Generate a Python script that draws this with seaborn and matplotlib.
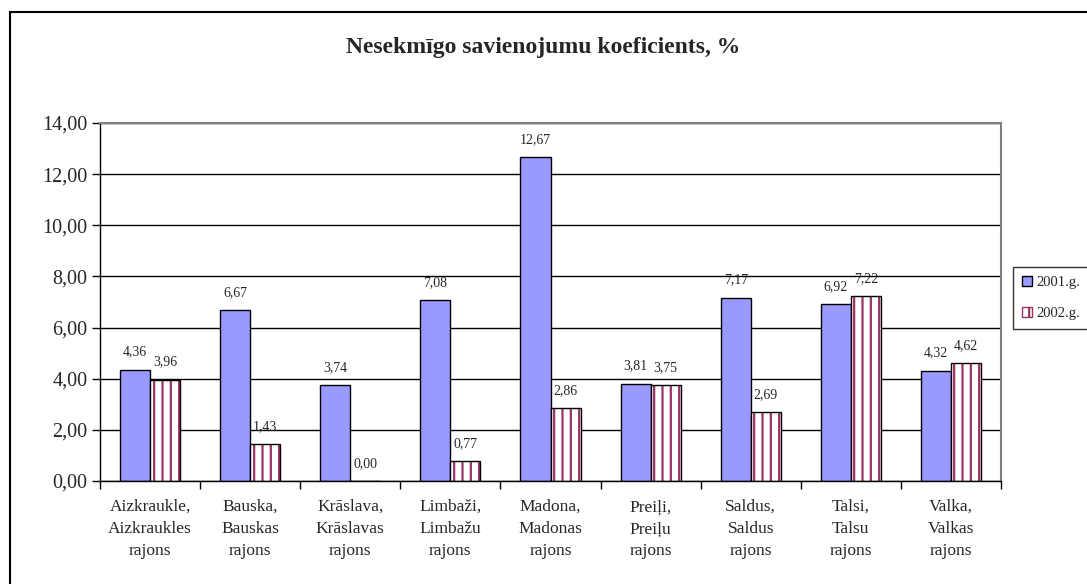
import seaborn as sns
import matplotlib.pyplot as plt
import pandas as pd
from matplotlib.patches import Patch, Rectangle
from matplotlib.ticker import FuncFormatter, FixedLocator

# dati
rajoni = ["Aizkraukle,\nAizkraukles\nrajons", "Bauska,\nBauskas\nrajons",
          "Krāslava,\nKrāslavas\nrajons", "Limbaži,\nLimbažu\nrajons",
          "Madona,\nMadonas\nrajons", "Preiļi,\nPreiļu\nrajons",
          "Saldus,\nSaldus\nrajons", "Talsi,\nTalsu\nrajons",
          "Valka,\nValkas\nrajons"]
gadi = ["2001.g.", "2002.g."]
v2001 = [4.36, 6.67, 3.74, 7.08, 12.67, 3.81, 7.17, 6.92, 4.32]
v2002 = [3.96, 1.43, 0.00, 0.77, 2.86, 3.75, 2.69, 7.22, 4.62]

df = pd.DataFrame({
    "rajons": rajoni * 2,
    "gads": [gadi[0]] * len(rajoni) + [gadi[1]] * len(rajoni),
    "vertiba": v2001 + v2002,
})

sns.set_theme(style="white")
plt.rcParams['font.family'] = ['Liberation Serif', 'DejaVu Serif']
plt.rcParams['hatch.linewidth'] = 1.6

fig = plt.figure(figsize=(10.87, 5.84), dpi=100)
ax = fig.add_axes([100 / 1087, 1 - 481 / 584, 901 / 1087, (481 - 123) / 584])

sns.barplot(data=df, x="rajons", y="vertiba", hue="gads", order=rajoni,
            hue_order=gadi, palette=["#9999FF", "#FFFFFF"], width=0.6,
            gap=0, edgecolor="black", linewidth=1, saturation=1,
            legend=False, ax=ax)

# 2002 stabi: svītras + melna kontūra
for bar in ax.containers[1]:
    bar.set_hatch("||")
    bar.set_edgecolor("#993366")
    bar.set_linewidth(0)
    ax.add_patch(Rectangle(bar.get_xy(), bar.get_width(), bar.get_height(),
                           fill=False, edgecolor="black", linewidth=1, zorder=bar.get_zorder() + 0.1))

# vērtību uzraksti
for cont in ax.containers:
    for bar in cont:
        ax.annotate(f"{bar.get_height():.2f}".replace(".", ","),
                    (bar.get_x() + bar.get_width() / 2, bar.get_height()),
                    xytext=(0, 8), textcoords="offset points",
                    ha="center", va="bottom", fontsize=10, zorder=0.9)

ax.set_ylim(0, 14)
ax.set_xlim(-0.5, len(rajoni) - 0.5)
ax.set_yticks(range(0, 15, 2))
ax.yaxis.set_major_formatter(FuncFormatter(lambda v, p: f"{v:.2f}".replace(".", ",")))
ax.yaxis.grid(True, color="black", linewidth=1)
ax.set_axisbelow(True)
ax.set_xlabel("")
ax.set_ylabel("")

ax.tick_params(axis="y", labelsize=14.5, length=6, width=1, color="black", left=True, pad=3)
ax.tick_params(axis="x", which="major", labelsize=12.5, length=0, pad=13)
for t in ax.get_xticklabels():
    t.set_linespacing(1.5)
ax.xaxis.set_minor_locator(FixedLocator([i - 0.5 for i in range(len(rajoni) + 1)]))
ax.tick_params(axis="x", which="minor", bottom=True, length=6, width=1, color="black")

for s in ["left", "bottom"]:
    ax.spines[s].set_color("black")
    ax.spines[s].set_linewidth(1)
for s in ["top", "right"]:
    ax.spines[s].set_color("#808080")
    ax.spines[s].set_linewidth(1.5)

fig.text(0.5, 1 - 47 / 584, "Nesekmīgo savienojumu koeficients, %",
         ha="center", va="center", fontsize=17, fontweight="bold")

# leģenda
handles = [Patch(facecolor="#9999FF", edgecolor="black", label=gadi[0]),
           Patch(facecolor="white", edgecolor="#993366", hatch="||", label=gadi[1])]
leg = fig.legend(handles=handles, loc="center left",
                 bbox_to_anchor=(1013 / 1087, 1 - 298 / 584), fontsize=10.5,
                 frameon=True, fancybox=False, handlelength=0.7, handleheight=0.7,
                 handletextpad=0.3, labelspacing=1.2, borderpad=0.6,
                 borderaxespad=0)
leg.get_frame().set_edgecolor("black")
leg.get_frame().set_linewidth(1)

# ārējais rāmis
fig.patches.append(Rectangle((10 / 1087, -0.1), 1.2, 1.1 - 12 / 584,
                             transform=fig.transFigure, fill=False,
                             edgecolor="black", linewidth=1.5))

fig.savefig("out.png", dpi=100)
